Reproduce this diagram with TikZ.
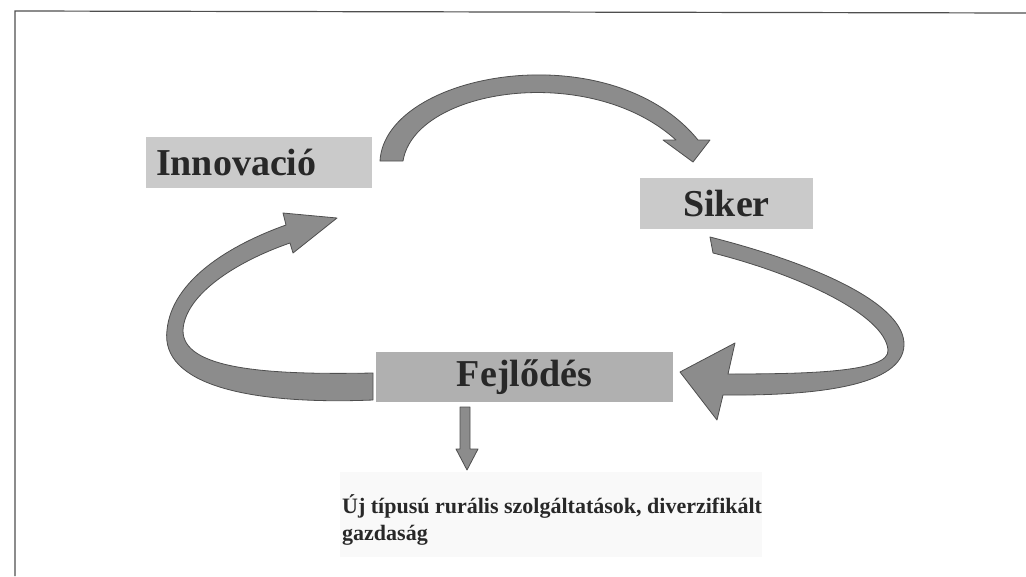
\documentclass[tikz,border=0pt]{standalone}
\usepackage{fontspec}
\setmainfont{Liberation Serif}
\usetikzlibrary{arrows.meta, positioning}
\definecolor{boxgray}{RGB}{202,202,202}
\definecolor{boxdark}{RGB}{176,176,176}
\definecolor{arrowfill}{RGB}{140,140,140}
\definecolor{arrowedge}{RGB}{78,78,78}
\definecolor{labeltext}{RGB}{40,40,40}
\tikzset{
    stagebox/.style={fill=boxgray, minimum height=51pt, inner sep=0pt, text=labeltext,
        font=\bfseries\fontsize{38}{40}\selectfont},
    ribbon/.style={fill=arrowfill, draw=arrowedge, line width=0.8pt, line join=round},
}

\begin{document}
\begin{tikzpicture}[x=1pt, y=-1pt]
    \useasboundingbox (0,0) rectangle (1026,576);
    \draw[arrowedge, line width=1.2pt] (15,576) -- (15,11) -- (1026,13);

    \node[stagebox, minimum width=226pt, text width=206pt] (inno) at (259,162) {Innovació};
    \node[stagebox, minimum width=173pt] (siker) at (726.5,203.5) {Siker};
    \node[stagebox, fill=boxdark, minimum width=297pt, minimum height=50pt] (fejl) at (524.5,377) {Fejlődés};

    \fill[black!2.5] (340,472) rectangle (762,557);
    \node[anchor=north west, inner sep=0pt, align=left, text=labeltext,
        font=\bfseries\fontsize{22}{27}\selectfont] (res) at (342,494)
        {Új típusú rurális szolgáltatások, diverzifikált\\gazdaság};

    % Innovacio -> Siker
    \draw[ribbon] (380,161) .. controls (385,72) and (610,32) .. (698,140)
        -- (710,140) -- (693,162) -- (663,140) -- (676,140)
        .. controls (590,62) and (415,88) .. (403,161) -- cycle;
    % Siker -> Fejlodes
    \draw[ribbon] (710,237) .. controls (820,265) and (905,305) .. (904,345)
        .. controls (903,385) and (820,396) .. (723,395)
        -- (717,420) -- (680,372) -- (735,343) -- (728,374)
        .. controls (810,374) and (890,372) .. (888,350)
        .. controls (885,315) and (800,275) .. (713,253) -- cycle;
    % Fejlodes -> Innovacio
    \draw[ribbon] (373,400) .. controls (250,405) and (160,385) .. (167,330)
        .. controls (172,280) and (230,245) .. (286,225)
        -- (283,213) -- (337,218) -- (293,253) -- (290,243)
        .. controls (235,262) and (185,295) .. (183,330)
        .. controls (182,370) and (270,375) .. (373,373) -- cycle;
    % Fejlodes -> result
    \draw[ribbon] (460,407) -- (470,407) -- (470,449) -- (478,449)
        -- (467,470) -- (456,449) -- (460,449) -- cycle;
\end{tikzpicture}
\end{document}
